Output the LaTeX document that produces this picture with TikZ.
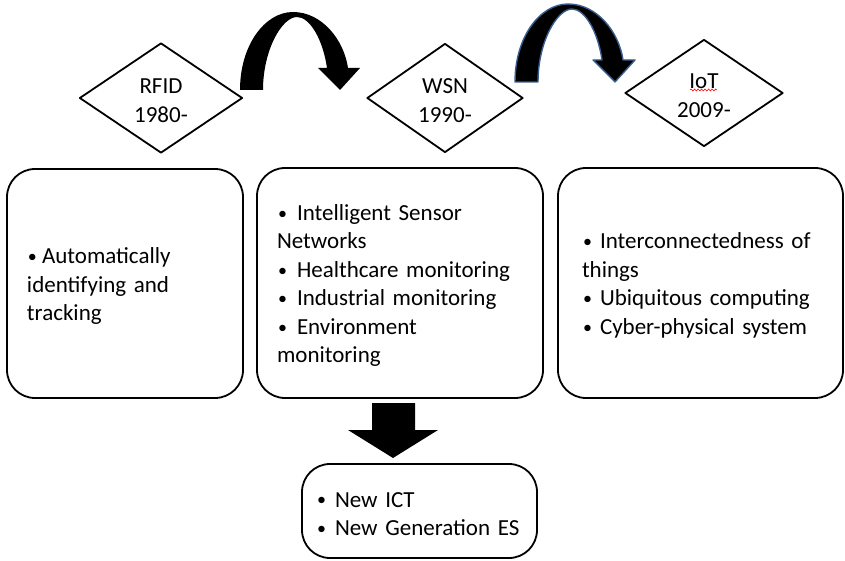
\documentclass[tikz,border=0pt]{standalone}
\usepackage{fontspec}
\setmainfont{Carlito}
\usetikzlibrary{shapes.geometric,decorations.pathmorphing}
\definecolor{arrowblue}{HTML}{3A5F8F}
\newcommand{\bitem}[1]{\makebox[#1][l]{\hspace{1pt}\raisebox{1.2pt}{\fontsize{18}{18}\selectfont •}}}
\begin{document}
\begin{tikzpicture}[x=1pt, y=-1pt, line join=round, thick,
		every node/.style={font=\fontsize{23}{28.5}\selectfont},
		stage/.style={draw, line width=1.8pt, shape=diamond, inner sep=0pt, align=center},
		panel/.style={draw, line width=1.8pt, rounded corners=28pt, inner xsep=0pt, align=left,
			execute at begin node={\rule{0pt}{21pt}}}]
			\useasboundingbox (0,0) rectangle (845,561);
			\tikzset{bend/.pic={
					\path[pic actions] (0,0) .. controls (0,-45) and (25,-78) .. (53,-78)
					.. controls (82,-78) and (104,-50) .. (108,-22) -- (120,-22) -- (100,0) -- (78,-22) -- (87,-22)
					.. controls (83,-50) and (70,-73) .. (57,-73) .. controls (42,-73) and (23,-40) .. (23,0) -- cycle;
			}}
			% stages
			\node[stage, minimum width=163pt, minimum height=110pt] (rfid) at (161,98) {\rule{0pt}{20pt}RFID\\1980-};
			\node[stage, minimum width=156pt, minimum height=109pt] (wsn) at (445,98) {\rule{0pt}{20pt}WSN\\1990-};
			\node[stage, minimum width=158pt, minimum height=107pt] (iot) at (704,93) {\rule{0pt}{20pt}IoT\\2009-};
			\draw[red, line width=0.6pt, decorate, decoration={snake, amplitude=1pt, segment length=3.5pt}] (690,90) -- (717,90);
			% panels
			\node[panel, minimum width=236pt, minimum height=229pt, text width=196pt] (rfidbox) at (125,283.5)
				{\bitem{15pt}Automatically\\identifying and\\tracking};
			\node[panel, minimum width=286pt, minimum height=230pt, text width=246pt] (wsnbox) at (400,283)
				{\bitem{20pt}Intelligent Sensor\\Networks\\\bitem{20pt}Healthcare monitoring\\\bitem{20pt}Industrial monitoring\\\bitem{20pt}Environment\\monitoring};
			\node[panel, minimum width=285pt, minimum height=230pt, text width=237pt] (iotbox) at (700.5,283)
				{\bitem{18pt}Interconnectedness of\\things\\\bitem{18pt}Ubiquitous computing\\\bitem{18pt}Cyber-physical system};
			\node[panel, minimum width=235pt, minimum height=94pt, text width=207pt] (resbox) at (419.5,511)
				{\bitem{19pt}New ICT\\\bitem{19pt}New Generation ES};
			% arrows
			\path (240,90) pic[fill=black]{bend} (515,82) pic[fill=black, draw=arrowblue, line width=1.4pt]{bend};
			\fill (372,403) -- (415,403) -- (415,430) -- (438,430) -- (393,458) -- (348,430) -- (372,430) -- cycle;
		\end{tikzpicture}
\end{document}
